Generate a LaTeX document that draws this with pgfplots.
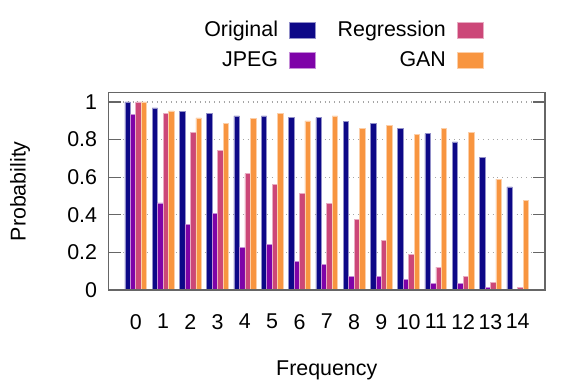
\documentclass[border=0pt]{standalone}
\usepackage{pgfplots}
\pgfplotsset{compat=1.18}
\usepackage{fontspec}
\setmainfont{Liberation Sans}

\definecolor{cOrig}{HTML}{0D0887}
\definecolor{cJpeg}{HTML}{7E03A8}
\definecolor{cReg}{HTML}{CC4778}
\definecolor{cGan}{HTML}{F89540}

\begin{document}
\begin{tikzpicture}[font=\fontsize{10.7}{13}\selectfont]
\begin{axis}[
    set layers,
    every axis plot/.append style={on layer=axis ticks},
    scale only axis,
    width=218.25pt, height=98.75pt,
    ybar=0pt, bar width=0.2,
    xmin=-1, xmax=15, ymin=0, ymax=1.05,
    xtick={0,...,14},
    ytick={0,0.2,...,1.0},
    /pgf/number format/assume math mode=true,
    ticklabel style={font=\fontsize{10.7}{13}\selectfont},
    xticklabel shift=8.5pt, yticklabel shift=2.2pt,
    xtick style={draw=none},
    tick align=inside, major tick length=6pt,
    ytick pos=both,
    ytick style={black!60, line width=0.6pt},
    axis line style={black!60, line width=0.6pt},
    ymajorgrids, grid style={dotted, black!35, line width=0.6pt},
    xlabel={Frequency}, ylabel={Probability},
    every axis x label/.style={at={(axis description cs:0.5,-0.405)}, anchor=center},
    every axis y label/.style={at={(axis description cs:-0.2025,0.5)}, rotate=90, anchor=center},
    legend columns=2, transpose legend,
    legend plot pos=right, legend cell align=right,
    legend style={draw=none, fill=none, inner sep=0pt, anchor=north east,
        at={(axis description cs:0.86,1.385)},
        nodes={inner sep=2pt, text height=7.8pt, text depth=2pt},
        row sep=1.2pt,
        /tikz/every odd column/.append style={column sep=3.5pt},
        /tikz/every even column/.append style={column sep=9pt}},
    legend image code/.code={\path[#1] (0pt,-4pt) rectangle (13pt,4pt);},
]
\addplot[fill=cOrig, draw=cOrig!45!white, line width=0.3pt] coordinates {
    (0,1.000) (1,0.968) (2,0.950) (3,0.938) (4,0.926) (5,0.926) (6,0.917)
    (7,0.917) (8,0.895) (9,0.887) (10,0.860) (11,0.832) (12,0.787)
    (13,0.706) (14,0.548)
};
\addlegendentry{Original}
\addplot[fill=cJpeg, draw=cJpeg!45!white, line width=0.3pt] coordinates {
    (0,0.933) (1,0.463) (2,0.349) (3,0.408) (4,0.225) (5,0.243) (6,0.152)
    (7,0.137) (8,0.074) (9,0.074) (10,0.058) (11,0.035) (12,0.035)
    (13,0.016) (14,0.004)
};
\addlegendentry{JPEG}
\addplot[fill=cReg, draw=cReg!45!white, line width=0.3pt] coordinates {
    (0,1.000) (1,0.941) (2,0.837) (3,0.741) (4,0.619) (5,0.562) (6,0.512)
    (7,0.461) (8,0.374) (9,0.264) (10,0.190) (11,0.122) (12,0.071)
    (13,0.039) (14,0.014)
};
\addlegendentry{Regression}
\addplot[fill=cGan, draw=cGan!45!white, line width=0.3pt] coordinates {
    (0,1.000) (1,0.952) (2,0.915) (3,0.887) (4,0.911) (5,0.941) (6,0.899)
    (7,0.926) (8,0.860) (9,0.876) (10,0.828) (11,0.860) (12,0.837)
    (13,0.590) (14,0.477)
};
\addlegendentry{GAN}
\end{axis}
\pgfresetboundingbox
\path[use as bounding box] ([xshift=-54.25pt,yshift=-49pt]current axis.south west)
    rectangle ([xshift=18pt,yshift=46.25pt]current axis.north east);
\end{tikzpicture}
\end{document}
